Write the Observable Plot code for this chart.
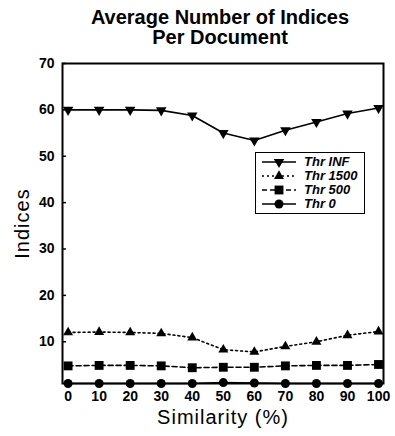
<!DOCTYPE html>
<html>
<head>
<meta charset="utf-8">
<script src="https://cdn.jsdelivr.net/npm/d3@7"></script>
<script src="https://cdn.jsdelivr.net/npm/@observablehq/plot@0.6"></script>
<style>
  html, body { margin: 0; padding: 0; background: #fff; }
  #wrap { position: relative; width: 395px; height: 436px; overflow: hidden; font-family: "Liberation Sans", Arial, sans-serif; }
  #title { position: absolute; left: 0; top: 0; width: 440px; height: 48px; text-align: center;
           font-weight: bold; font-size: 20px; line-height: 20px; padding-top: 7px; box-sizing: border-box; color: #000; }
  #chart { position: absolute; left: 0; top: 48px; }
  #legend { position: absolute; left: 255px; top: 152px; width: 110px; height: 62px; border: 1.5px solid #000; background: #fff; box-sizing: border-box; padding: 2px 0 0 4px; }
  .row { display: flex; align-items: center; height: 14px; }
  .row span { font-weight: bold; font-style: italic; font-size: 13px; margin-left: 6px; line-height: 14px; }
</style>
</head>
<body>
<div id="wrap">
  <div id="title">Average Number of Indices<br>Per Document</div>
  <div id="chart"></div>
  <div id="legend"></div>
</div>
<script>
const similarity = [0, 10, 20, 30, 40, 50, 60, 70, 80, 90, 100];
const thrINF  = [60.0, 60.0, 60.0, 59.9, 58.8, 55.0, 53.4, 55.6, 57.4, 59.2, 60.4];
const thr1500 = [12.0, 12.1, 12.0, 11.8, 10.9, 8.3, 7.8, 9.0, 10.0, 11.4, 12.2];
const thr500  = [4.8, 4.9, 4.9, 4.8, 4.4, 4.5, 4.5, 4.8, 4.9, 4.9, 5.1];
const thr0    = [1.0, 1.0, 1.0, 1.0, 1.0, 1.2, 1.1, 1.0, 1.0, 1.0, 1.0];
const seriesNames = ["Thr INF", "Thr 1500", "Thr 500", "Thr 0"];
const yTicks = [10, 20, 30, 40, 50, 60, 70];
const xTicks = [0, 10, 20, 30, 40, 50, 60, 70, 80, 90, 100];

const triangleDown = {
  draw(context, size) {
    const y = -Math.sqrt(size / (Math.sqrt(3) * 3));
    context.moveTo(0, -y * 2);
    context.lineTo(-Math.sqrt(3) * y, y);
    context.lineTo(Math.sqrt(3) * y, y);
    context.closePath();
  }
};

const styles = {
  "Thr INF":  {values: thrINF,  dash: null,  symbol: triangleDown, r: 3.9},
  "Thr 1500": {values: thr1500, dash: "2,3", symbol: "triangle",   r: 3.7},
  "Thr 500":  {values: thr500,  dash: "5,3", symbol: "square",     r: 5.0},
  "Thr 0":    {values: thr0,    dash: null,  symbol: "circle",     r: 4.5}
};

const marks = [];
for (const name of seriesNames) {
  const s = styles[name];
  const data = similarity.map((x, i) => ({x, y: s.values[i]}));
  marks.push(Plot.line(data, {x: "x", y: "y", stroke: "#000", strokeWidth: 1.6, strokeDasharray: s.dash}));
  marks.push(Plot.dot(data, {x: "x", y: "y", symbol: () => s.symbol, r: s.r, fill: "#000", stroke: "none"}));
}

const chart = Plot.plot({
  width: 395,
  height: 388,
  marginTop: 15,
  marginBottom: 53,
  marginLeft: 62,
  marginRight: 12,
  style: {fontFamily: "'Liberation Sans', Arial, sans-serif", background: "#fff", color: "#000"},
  x: {domain: [-1.8, 101.6]},
  y: {domain: [1, 70]},
  marks: [
    Plot.axisY({ticks: yTicks, tickSize: -4, tickPadding: 12, fontSize: 14, fontWeight: "bold", strokeWidth: 1.5,
                label: "Indices", labelAnchor: "center", labelArrow: "none", labelOffset: 48}),
    Plot.axisX({ticks: xTicks, tickSize: 0, tickPadding: 8, fontSize: 14, fontWeight: "bold",
                label: "Similarity (%)", labelAnchor: "center", labelArrow: "none", labelOffset: 40}),
    ...marks,
    Plot.frame({stroke: "#000", strokeWidth: 2})
  ]
});
chart.querySelectorAll("g[aria-label='y-axis label'] text, g[aria-label='x-axis label'] text").forEach(t => {
  t.setAttribute("font-size", "20");
  t.setAttribute("font-weight", "normal");
  t.style.letterSpacing = "1px";
});
document.getElementById("chart").appendChild(chart);

// legend
const legend = document.getElementById("legend");
for (const name of seriesNames) {
  const s = styles[name];
  const row = document.createElement("div");
  row.className = "row";
  const svg = d3.create("svg").attr("width", 38).attr("height", 14);
  svg.append("line").attr("x1", 2).attr("x2", 36).attr("y1", 7).attr("y2", 7)
     .attr("stroke", "#000").attr("stroke-width", 1.6).attr("stroke-dasharray", s.dash);
  const sym = typeof s.symbol === "string" ? {triangle: d3.symbolTriangle, square: d3.symbolSquare, circle: d3.symbolCircle}[s.symbol] : s.symbol;
  svg.append("path").attr("transform", "translate(19,7)")
     .attr("d", d3.symbol(sym, s.r * s.r * Math.PI)()).attr("fill", "#000");
  row.appendChild(svg.node());
  const span = document.createElement("span");
  span.textContent = name;
  row.appendChild(span);
  legend.appendChild(row);
}
</script>
</body>
</html>
